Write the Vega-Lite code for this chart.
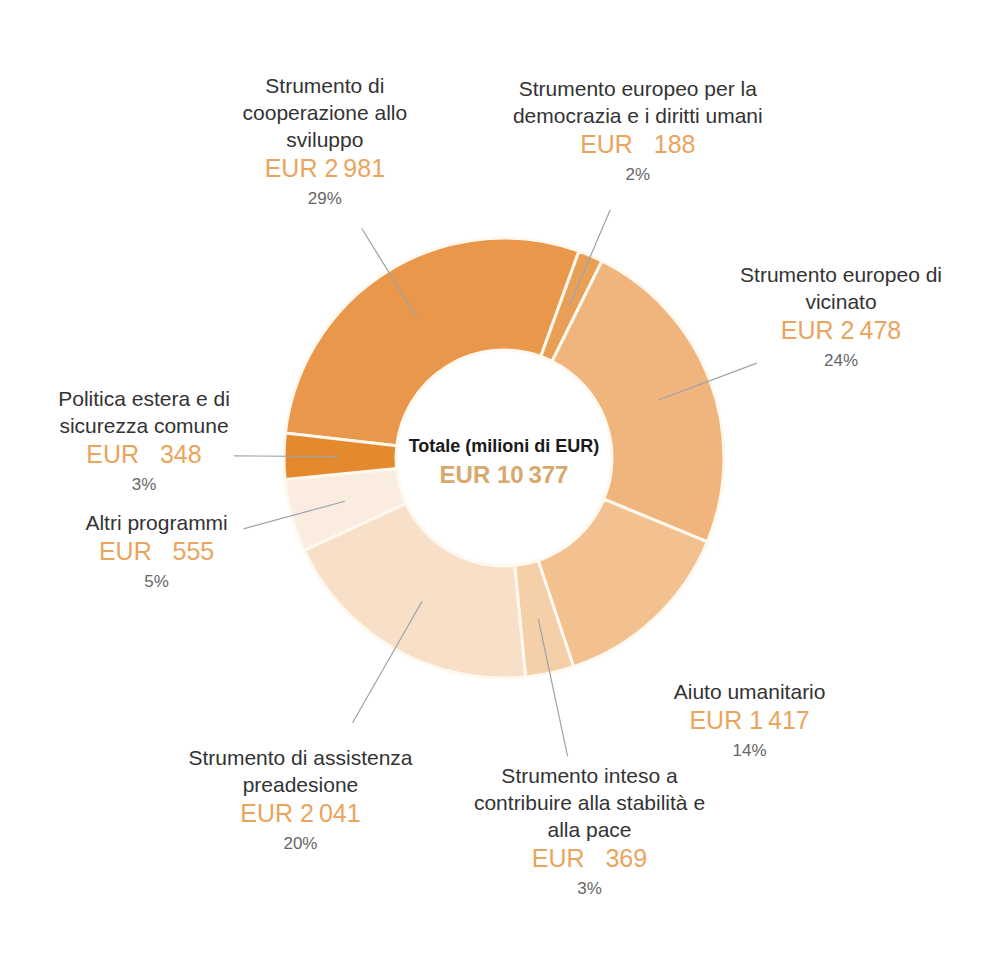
{
  "$schema": "https://vega.github.io/schema/vega-lite/v6.json",
  "width": 988,
  "height": 968,
  "autosize": {"type": "fit", "contains": "padding"},
  "padding": {"left": 20, "top": 0, "right": 0, "bottom": 52},
  "background": "white",
  "config": {"view": {"stroke": null}, "text": {"font": "Liberation Sans, Arial, sans-serif"}},
  "data": {
    "values": [
      {"order": 1, "name": "Strumento di\ncooperazione allo\nsviluppo", "value": 2981, "eur": "EUR 2\u2009981", "pct": "29%"},
      {"order": 2, "name": "Strumento europeo per la\ndemocrazia e i diritti umani", "value": 188, "eur": "EUR\u00a0\u00a0\u00a0188", "pct": "2%"},
      {"order": 3, "name": "Strumento europeo di\nvicinato", "value": 2478, "eur": "EUR 2\u2009478", "pct": "24%"},
      {"order": 4, "name": "Aiuto umanitario", "value": 1417, "eur": "EUR 1\u2009417", "pct": "14%"},
      {"order": 5, "name": "Strumento inteso a\ncontribuire alla stabilità e\nalla pace", "value": 369, "eur": "EUR\u00a0\u00a0\u00a0369", "pct": "3%"},
      {"order": 6, "name": "Strumento di assistenza\npreadesione", "value": 2041, "eur": "EUR 2\u2009041", "pct": "20%"},
      {"order": 7, "name": "Altri programmi", "value": 555, "eur": "EUR\u00a0\u00a0\u00a0555", "pct": "5%"},
      {"order": 8, "name": "Politica estera e di\nsicurezza comune", "value": 348, "eur": "EUR\u00a0\u00a0\u00a0348", "pct": "3%"}
    ]
  },
  "transform": [
    {"stack": "value", "groupby": [], "sort": [{"field": "order", "order": "ascending"}], "as": ["v0", "v1"]},
    {"calculate": "(datum.v0 + datum.v1) / 2", "as": "mid"},
    {"calculate": "length(split(datum.name, '\\n'))", "as": "nlines"}
  ],
  "layer": [
    {
      "mark": {"type": "arc", "radius": 220, "radius2": 108, "stroke": "#fff8ef", "strokeWidth": 3},
      "encoding": {
        "theta": {"field": "v0", "type": "quantitative", "stack": null, "scale": {"domain": [0, 10377], "range": [-1.4574, 4.8258]}},
        "theta2": {"field": "v1"},
        "color": {
          "field": "order", "type": "ordinal", "legend": null,
          "scale": {"domain": [1, 2, 3, 4, 5, 6, 7, 8], "range": ["#e9974a", "#ea9f57", "#f0b57c", "#f2c18f", "#f5cfa8", "#f8dfc8", "#fbece0", "#e5892f"]}
        }
      }
    },
    {
      "transform": [{"filter": "datum.order != 4 && datum.order != 5 && datum.order != 6"}],
      "mark": {"type": "arc", "radius": 270, "radius2": 165, "filled": false, "stroke": "#9aa3ad", "strokeWidth": 1.2},
      "encoding": {
        "theta": {"field": "mid", "type": "quantitative", "stack": null},
        "theta2": {"field": "mid"}
      }
    },
    {
      "transform": [{"filter": "datum.order == 5 || datum.order == 6"}],
      "mark": {"type": "arc", "radius": 305, "radius2": 165, "filled": false, "stroke": "#9aa3ad", "strokeWidth": 1.2},
      "encoding": {
        "theta": {"field": "mid", "type": "quantitative", "stack": null},
        "theta2": {"field": "mid"}
      }
    },
    {
      "transform": [{"filter": "datum.order == 1 || datum.order == 2"}],
      "layer": [
        {"transform": [{"filter": "datum.nlines == 2"}],
         "mark": {"type": "text", "radius": 340, "align": "center", "baseline": "middle", "dy": -55, "lineBreak": "\n", "lineHeight": 27, "fontSize": 21, "color": "#333333"},
         "encoding": {"theta": {"field": "mid", "type": "quantitative", "stack": null}, "text": {"field": "name"}}},
        {"transform": [{"filter": "datum.nlines == 3"}],
         "mark": {"type": "text", "radius": 340, "align": "center", "baseline": "middle", "dy": -82, "lineBreak": "\n", "lineHeight": 27, "fontSize": 21, "color": "#333333"},
         "encoding": {"theta": {"field": "mid", "type": "quantitative", "stack": null}, "text": {"field": "name"}}},
        {"mark": {"type": "text", "radius": 340, "align": "center", "baseline": "middle", "fontSize": 25, "color": "#eaa45c"},
         "encoding": {"theta": {"field": "mid", "type": "quantitative", "stack": null}, "text": {"field": "eur"}}},
        {"mark": {"type": "text", "radius": 340, "align": "center", "baseline": "middle", "dy": 30, "fontSize": 17, "color": "#666666"},
         "encoding": {"theta": {"field": "mid", "type": "quantitative", "stack": null}, "text": {"field": "pct"}}}
      ]
    },
    {
      "transform": [{"filter": "datum.order == 3 || datum.order == 4 || datum.order == 7 || datum.order == 8"}],
      "layer": [
        {"transform": [{"filter": "datum.nlines == 1"}],
         "mark": {"type": "text", "radius": 360, "align": "center", "baseline": "middle", "dy": -28, "lineBreak": "\n", "lineHeight": 27, "fontSize": 21, "color": "#333333"},
         "encoding": {"theta": {"field": "mid", "type": "quantitative", "stack": null}, "text": {"field": "name"}}},
        {"transform": [{"filter": "datum.nlines == 2"}],
         "mark": {"type": "text", "radius": 360, "align": "center", "baseline": "middle", "dy": -55, "lineBreak": "\n", "lineHeight": 27, "fontSize": 21, "color": "#333333"},
         "encoding": {"theta": {"field": "mid", "type": "quantitative", "stack": null}, "text": {"field": "name"}}},
        {"mark": {"type": "text", "radius": 360, "align": "center", "baseline": "middle", "fontSize": 25, "color": "#eaa45c"},
         "encoding": {"theta": {"field": "mid", "type": "quantitative", "stack": null}, "text": {"field": "eur"}}},
        {"mark": {"type": "text", "radius": 360, "align": "center", "baseline": "middle", "dy": 30, "fontSize": 17, "color": "#666666"},
         "encoding": {"theta": {"field": "mid", "type": "quantitative", "stack": null}, "text": {"field": "pct"}}}
      ]
    },
    {
      "transform": [{"filter": "datum.order == 5 || datum.order == 6"}],
      "layer": [
        {"transform": [{"filter": "datum.nlines == 2"}],
         "mark": {"type": "text", "radius": 410, "align": "center", "baseline": "middle", "dy": -55, "lineBreak": "\n", "lineHeight": 27, "fontSize": 21, "color": "#333333"},
         "encoding": {"theta": {"field": "mid", "type": "quantitative", "stack": null}, "text": {"field": "name"}}},
        {"transform": [{"filter": "datum.nlines == 3"}],
         "mark": {"type": "text", "radius": 410, "align": "center", "baseline": "middle", "dy": -82, "lineBreak": "\n", "lineHeight": 27, "fontSize": 21, "color": "#333333"},
         "encoding": {"theta": {"field": "mid", "type": "quantitative", "stack": null}, "text": {"field": "name"}}},
        {"mark": {"type": "text", "radius": 410, "align": "center", "baseline": "middle", "fontSize": 25, "color": "#eaa45c"},
         "encoding": {"theta": {"field": "mid", "type": "quantitative", "stack": null}, "text": {"field": "eur"}}},
        {"mark": {"type": "text", "radius": 410, "align": "center", "baseline": "middle", "dy": 30, "fontSize": 17, "color": "#666666"},
         "encoding": {"theta": {"field": "mid", "type": "quantitative", "stack": null}, "text": {"field": "pct"}}}
      ]
    },
    {
      "transform": [
        {"aggregate": [{"op": "sum", "field": "value", "as": "total"}]},
        {"calculate": "'EUR ' + replace(format(datum.total, ','), ',', '\u2009')", "as": "totlabel"}
      ],
      "layer": [
        {"mark": {"type": "text", "text": "Totale (milioni di EUR)", "align": "center", "baseline": "middle", "dy": -11, "fontSize": 18, "fontWeight": "bold", "color": "#1a1a1a"},
         "encoding": {}},
        {"mark": {"type": "text", "align": "center", "baseline": "middle", "dy": 18, "fontSize": 24, "fontWeight": "bold", "color": "#d8a86c"},
         "encoding": {"text": {"field": "totlabel"}}}
      ]
    }
  ]
}
